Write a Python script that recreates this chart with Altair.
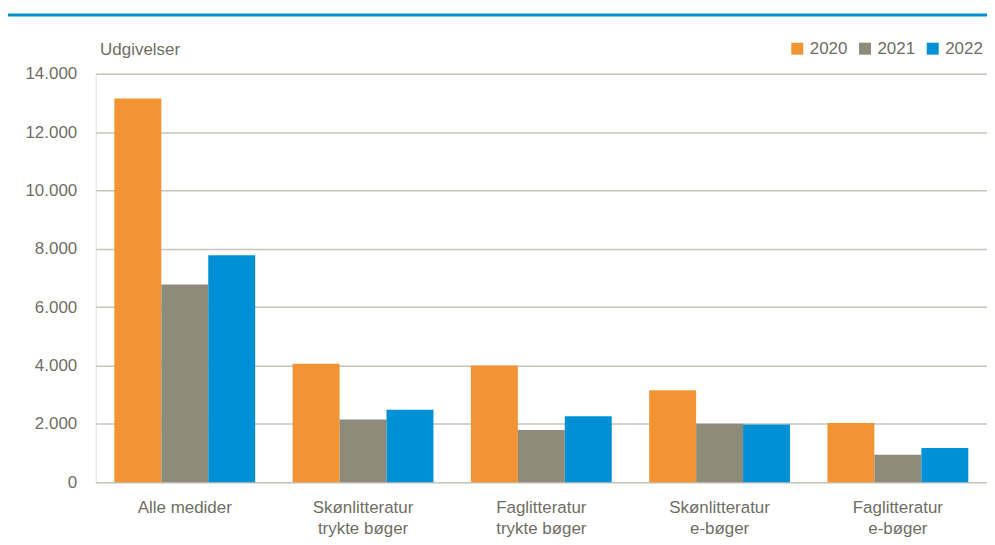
import altair as alt
import pandas as pd

categories = ["Alle medider", "Skønlitteratur|trykte bøger", "Faglitteratur|trykte bøger",
              "Skønlitteratur|e-bøger", "Faglitteratur|e-bøger"]
years = ["2020", "2021", "2022"]
v2020 = [13150, 4060, 4000, 3150, 2030]
v2021 = [6780, 2150, 1790, 2000, 940]
v2022 = [7780, 2480, 2260, 1980, 1170]
colors = ["#F29433", "#8E8B7B", "#0090D6"]

rows = []
for yr, vals in zip(years, [v2020, v2021, v2022]):
    for c, v in zip(categories, vals):
        rows.append({"kategori": c, "år": yr, "udgivelser": v})
df = pd.DataFrame(rows)

TXT = "#6F6E63"
GRID = "#C6C5BB"
FONT = "Liberation Sans"

bars = alt.Chart(df).mark_bar().encode(
    x=alt.X("kategori:N", sort=categories,
            scale=alt.Scale(paddingInner=0.21, paddingOuter=0.105),
            axis=alt.Axis(title=None, labelAngle=0, domain=False, ticks=False,
                          labelExpr="split(datum.label, '|')", labelFontSize=17,
                          labelLineHeight=22, labelPadding=17, labelColor=TXT,
                          labelFont=FONT)),
    xOffset=alt.XOffset("år:N", sort=years, scale=alt.Scale(paddingInner=0, paddingOuter=0)),
    y=alt.Y("udgivelser:Q", scale=alt.Scale(domain=[0, 14000], nice=False),
            axis=alt.Axis(values=[0, 2000, 4000, 6000, 8000, 10000, 12000, 14000],
                          labelExpr="replace(format(datum.value, ',d'), ',', '.')",
                          domain=False, ticks=False, gridColor=GRID, gridWidth=1.5,
                          labelFontSize=17, labelColor=TXT, labelPadding=19,
                          labelFont=FONT,
                          title="Udgivelser", titleAngle=0, titleAlign="left",
                          titleBaseline="middle", titleX=4, titleY=-24,
                          titleFontSize=17, titleFontWeight="normal", titleColor=TXT,
                          titleFont=FONT)),
    color=alt.Color("år:N", sort=years, scale=alt.Scale(domain=years, range=colors),
                    legend=alt.Legend(title=None, orient="none", direction="horizontal",
                                      legendX=696, legendY=-34, symbolType="square",
                                      symbolSize=144, symbolStrokeWidth=0,
                                      labelFontSize=17, labelColor=TXT,
                                      labelFont=FONT, labelOffset=4,
                                      columnPadding=9)),
)

line_df = pd.DataFrame({"a": [1]})
topline = alt.Chart(line_df).mark_rule(color="#0090D0", strokeWidth=3).encode(
    x=alt.value(-91), x2=alt.value(899), y=alt.value(-59)
)

chart = alt.layer(bars, topline).properties(
    width=895, height=410,
    autosize=alt.AutoSizeParams(type="none"),
    padding={"left": 88, "top": 65, "right": 0, "bottom": 60},
).configure_view(stroke=None).configure(background="white")

chart.save("out.html", embed_options={"renderer": "svg", "actions": False})
